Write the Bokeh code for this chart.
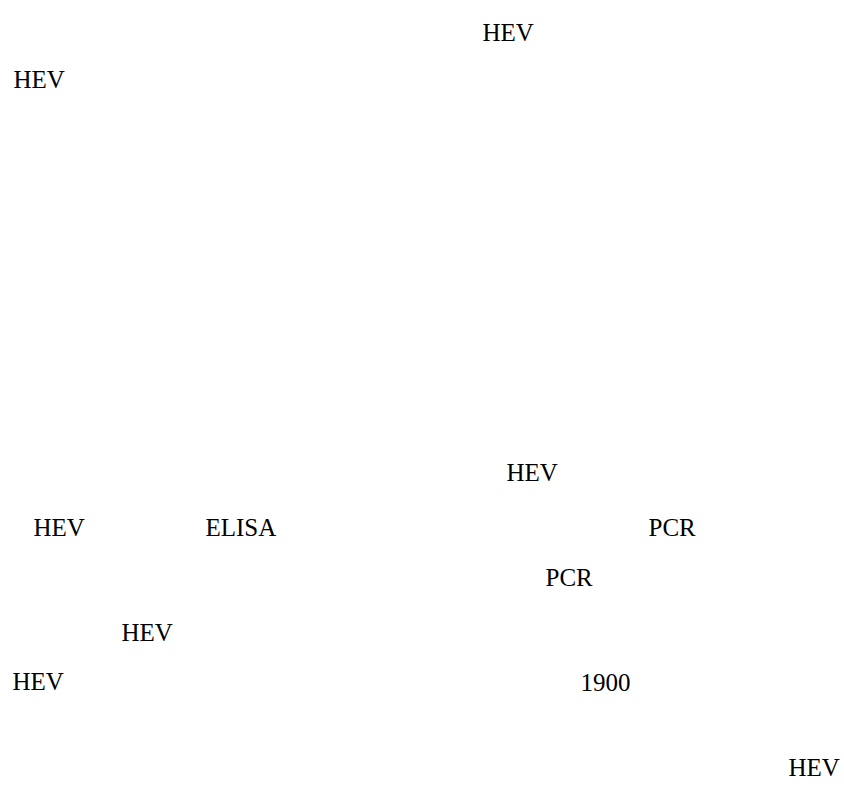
from bokeh.plotting import figure
from bokeh.models import Range1d, ColumnDataSource
from bokeh.core.properties import value
from bokeh.embed import file_html
from bokeh.resources import INLINE

# Text fragments visible on the page (the rest of the original text did not render)
labels = ["HEV", "HEV", "HEV", "HEV", "ELISA", "PCR", "PCR", "HEV", "HEV", "1900", "HEV"]

# Layout: left edge and baseline of each fragment, in page pixels
left_x = [482, 13, 506, 33, 205, 648, 545, 121, 12, 580, 788]
baseline_y = [32, 79, 472, 527, 527, 527, 577, 632, 681, 682, 767]

W, H = 840, 780
p = figure(width=W, height=H, output_backend="svg", toolbar_location=None,
           x_range=Range1d(0, W), y_range=Range1d(H, 0),
           min_border=0, min_border_left=0, min_border_right=0,
           min_border_top=0, min_border_bottom=0)
p.axis.visible = False
p.xgrid.visible = False
p.ygrid.visible = False
p.outline_line_color = None
p.background_fill_color = "white"
p.border_fill_color = "white"

src = ColumnDataSource(dict(x=left_x, y=baseline_y, text=labels))
p.text(x="x", y="y", text="text", source=src,
       text_font=value("Liberation Serif"), text_font_size="25px",
       text_color="black", text_align="left", text_baseline="alphabetic")

open("out.html", "w").write(file_html(p, INLINE))
